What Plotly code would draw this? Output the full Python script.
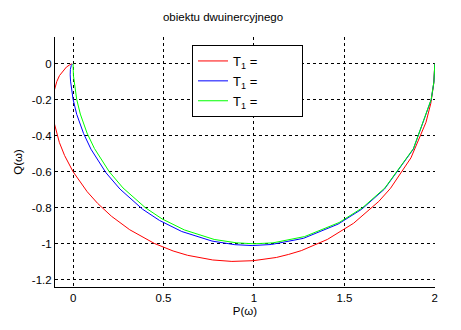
import plotly.graph_objects as go

red_P = [2.0, 1.994, 1.978, 1.951, 1.868, 1.755, 1.690, 1.551, 1.406, 1.262, 1.192, 1.124,
         0.996, 0.878, 0.772, 0.633, 0.553, 0.449, 0.313, 0.212, 0.136, 0.078, 0.0,
         -0.047, -0.076, -0.094, -0.105, -0.112, -0.111, -0.105, -0.090, -0.075, -0.056,
         -0.037, -0.018, -0.007]
red_Q = [0.0, -0.111, -0.220, -0.326, -0.523, -0.692, -0.765, -0.886, -0.976, -1.038, -1.059, -1.076,
         -1.094, -1.098, -1.090, -1.064, -1.040, -0.998, -0.922, -0.847, -0.776, -0.711, -0.600,
         -0.510, -0.437, -0.377, -0.327, -0.250, -0.194, -0.153, -0.099, -0.066, -0.039,
         -0.019, -0.006, -0.001]

blue_P = [2.0, 1.995, 1.980, 1.881, 1.721, 1.596, 1.465, 1.273, 1.096, 0.990, 0.894, 0.768,
          0.601, 0.477, 0.384, 0.259, 0.182, 0.099, 0.058, 0.020, 0.0, -0.011, -0.014,
          -0.016, -0.015, -0.010, -0.004]
blue_Q = [0.0, -0.101, -0.200, -0.475, -0.697, -0.808, -0.891, -0.970, -1.004, -1.010, -1.005, -0.985,
          -0.932, -0.870, -0.808, -0.696, -0.606, -0.475, -0.388, -0.281, -0.198, -0.131, -0.097,
          -0.062, -0.032, -0.010, -0.002]

green_P = [2.0, 1.995, 1.980, 1.882, 1.724, 1.600, 1.471, 1.280, 1.105, 1.000, 0.905, 0.780,
           0.615, 0.492, 0.400, 0.276, 0.200, 0.118, 0.077, 0.040, 0.020, 0.009, 0.005,
           0.002, 0.001, 0.0]
green_Q = [0.0, -0.100, -0.198, -0.471, -0.690, -0.800, -0.882, -0.960, -0.995, -1.000, -0.995, -0.976,
           -0.923, -0.862, -0.800, -0.690, -0.600, -0.471, -0.385, -0.280, -0.198, -0.133, -0.100,
           -0.067, -0.040, 0.0]

legend_labels = ["T<sub>1</sub> =\u00a0\u00a0\u00a0\u00a0\u00a0\u00a0\u00a0\u00a0\u00a0\u00a0\u00a0",
                 "T<sub>1</sub> =\u00a0\u00a0\u00a0\u00a0\u00a0\u00a0\u00a0\u00a0\u00a0\u00a0\u00a0",
                 "T<sub>1</sub> =\u00a0\u00a0\u00a0\u00a0\u00a0\u00a0\u00a0\u00a0\u00a0\u00a0\u00a0"]
colors = ["#ff0000", "#0000ff", "#00ff00"]

x_ticks = [0, 0.5, 1, 1.5, 2]
x_ticktext = ["0", "0.5", "1", "1.5", "2"]
y_ticks = [-1.2, -1.0, -0.8, -0.6, -0.4, -0.2, 0]
y_ticktext = ["-1.2", "-1", "-0.8", "-0.6", "-0.4", "-0.2", "0"]

FONT = "Liberation Sans, Arial, Helvetica, sans-serif"

fig = go.Figure()
for P, Q, name, c in [(red_P, red_Q, legend_labels[0], colors[0]),
                      (blue_P, blue_Q, legend_labels[1], colors[1]),
                      (green_P, green_Q, legend_labels[2], colors[2])]:
    fig.add_trace(go.Scatter(x=P, y=Q, mode="lines", name=name,
                             line=dict(color=c, width=1)))

axis_common = dict(showline=True, linecolor="black", linewidth=1, mirror=False,
                   showgrid=True, gridcolor="black", gridwidth=1, griddash="3px,3px",
                   zeroline=False, ticks="", tickfont=dict(family=FONT, size=11.5, color="black"))

fig.update_layout(
    width=461, height=330,
    margin=dict(l=55, r=26, t=37, b=43),
    paper_bgcolor="white", plot_bgcolor="white",
    font=dict(family=FONT, size=11.5, color="black"),
    title=dict(text="obiektu dwuinercyjnego", x=223/461, xanchor="center",
               y=1-17/330, yanchor="middle", font=dict(family=FONT, size=11.5, color="black")),
    xaxis=dict(range=[-0.1, 2.001], tickvals=x_ticks, ticktext=x_ticktext,
               title=dict(text="P(\u03c9)", standoff=4, font=dict(family=FONT, size=11.5)),
               **axis_common),
    yaxis=dict(range=[-1.24, 0.148], tickvals=y_ticks, ticktext=y_ticktext,
               title=dict(text="Q(\u03c9)", standoff=6, font=dict(family=FONT, size=11.5)),
               **axis_common),
    showlegend=True,
    legend=dict(x=(192-55)/380, y=(287-45)/250, xanchor="left", yanchor="top",
                bgcolor="white", bordercolor="black", borderwidth=1,
                font=dict(family=FONT, size=13, color="black"),
                tracegroupgap=0, itemwidth=30),
)

fig.write_html("out.html")
